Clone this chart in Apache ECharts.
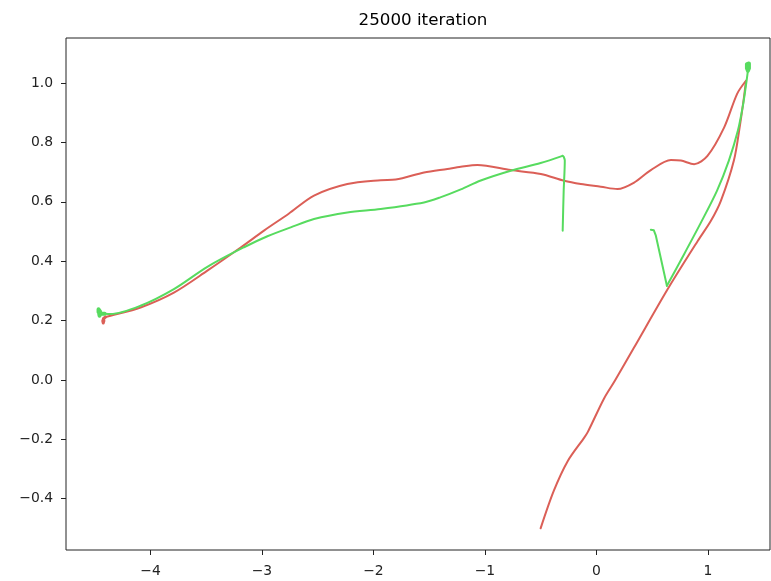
<!DOCTYPE html>
<html>
<head>
<meta charset="utf-8">
<script src="https://cdn.jsdelivr.net/npm/echarts@6/dist/echarts.min.js"></script>
<style>html,body{margin:0;padding:0;background:#fff}#c{width:771px;height:581px}</style>
</head>
<body>
<div id="c"></div>
<script>
const titleText = '25000 iteration';
const xTicks = [-4, -3, -2, -1, 0, 1];
const yTicks = [-0.4, -0.2, 0.0, 0.2, 0.4, 0.6, 0.8, 1.0];

// red trajectory: rising part then the wavy return, plus the small end hook
const redUp = [[-0.5,-0.5],[-0.382,-0.374],[-0.256,-0.273],[-0.112,-0.196],[-0.076,-0.175],[0.067,-0.064],[0.166,-0.003],[0.337,0.108],[0.642,0.307],[0.911,0.469],[1.028,0.536],[1.118,0.604],[1.234,0.739],[1.288,0.857],[1.324,0.951],[1.342,1.008]];
const redBack = [[1.342,1.008],[1.263,0.964],[1.147,0.851],[0.997,0.755],[0.877,0.727],[0.759,0.739],[0.669,0.741],[0.489,0.707],[0.339,0.665],[0.190,0.643],[0.040,0.651],[-0.139,0.660],[-0.289,0.671],[-0.498,0.694],[-0.768,0.707],[-1.067,0.724],[-1.216,0.718],[-1.336,0.711],[-1.546,0.699],[-1.800,0.675],[-1.935,0.673],[-2.234,0.660],[-2.533,0.621],[-2.760,0.560],[-2.982,0.503],[-3.191,0.446],[-3.490,0.368],[-3.790,0.294],[-4.089,0.244],[-4.358,0.216],[-4.403,0.212]];
const redHook = [[-4.403,0.212],[-4.421,0.207],[-4.428,0.199],[-4.424,0.192],[-4.418,0.199],[-4.421,0.207]];

// green trajectory: two pieces
const greenA1 = [[0.489,0.506],[0.516,0.504],[0.534,0.486],[0.633,0.317]];
const greenA2 = [[0.633,0.317],[0.785,0.422],[0.938,0.530],[1.082,0.637],[1.189,0.739],[1.270,0.840],[1.315,0.924],[1.342,0.992],[1.360,1.042]];
const greenBlobR = [[1.360,1.042],[1.369,1.050],[1.369,1.066],[1.360,1.072],[1.351,1.064],[1.351,1.050],[1.360,1.042],[1.362,1.058]];
const greenB1 = [[-0.302,0.503],[-0.293,0.637],[-0.283,0.739],[-0.293,0.752],[-0.303,0.755]];
const greenB2 = [[-0.303,0.755],[-0.5,0.731],[-0.768,0.705],[-1.037,0.672],[-1.216,0.642],[-1.40,0.615],[-1.546,0.598],[-1.935,0.576],[-2.234,0.564],[-2.533,0.542],[-2.742,0.514],[-2.951,0.484],[-3.161,0.447],[-3.490,0.381],[-3.790,0.306],[-4.089,0.250],[-4.358,0.222],[-4.412,0.223]];
const greenBlobL = [[-4.412,0.223],[-4.448,0.224],[-4.466,0.229],[-4.466,0.238],[-4.457,0.241],[-4.452,0.230],[-4.457,0.216],[-4.466,0.219],[-4.462,0.228]];

const RED = '#db5f57';
const GREEN = '#57db5f';
const FONT = 'DejaVu Sans';

function minus(s){ return s.replace('-', '\u2212'); }

function line(data, color, smooth, width){
  return {type:'line', data:data, showSymbol:false, symbol:'none', smooth:smooth,
    lineStyle:{color:color, width:width || 2, cap:'round', join:'round'}, silent:true, z:2};
}

const chart = echarts.init(document.getElementById('c'), null, {renderer:'canvas'});
chart.setOption({
  animation:false,
  backgroundColor:'#fff',
  title:{text:titleText, left:418, top:7, textAlign:'center',
    textStyle:{fontFamily:FONT, fontSize:16.7, fontWeight:'normal', color:'#000'}},
  grid:{left:66, right:1, top:38, bottom:31, show:true, borderColor:'#222', borderWidth:1, backgroundColor:'transparent'},
  xAxis:{type:'value', min:-4.758, max:1.558,
    axisLine:{show:false, onZero:false},
    splitLine:{show:false},
    axisTick:{show:true, length:5, inside:false, customValues:xTicks, lineStyle:{color:'#222', width:1}},
    axisLabel:{margin:14, customValues:xTicks, fontFamily:FONT, fontSize:13.9, color:'#222',
      formatter:function(v){ return minus(String(Math.round(v))); }}},
  yAxis:{type:'value', min:-0.573, max:1.152,
    axisLine:{show:false, onZero:false},
    splitLine:{show:false},
    axisTick:{show:true, length:5, inside:false, customValues:yTicks, lineStyle:{color:'#222', width:1}},
    axisLabel:{margin:13, customValues:yTicks, fontFamily:FONT, fontSize:13.9, color:'#222',
      formatter:function(v){ return minus((Math.round(v*10)/10).toFixed(1)); }}},
  series:[
    line(redUp, RED, 0.3),
    line(redBack, RED, 0.3),
    line(redHook, RED, false, 3),
    line(greenA1, GREEN, false),
    line(greenA2, GREEN, 0.3),
    line(greenBlobR, GREEN, false, 4),
    line(greenB1, GREEN, 0.3),
    line(greenB2, GREEN, 0.3),
    line(greenBlobL, GREEN, false, 4)
  ]
});
</script>
</body>
</html>
